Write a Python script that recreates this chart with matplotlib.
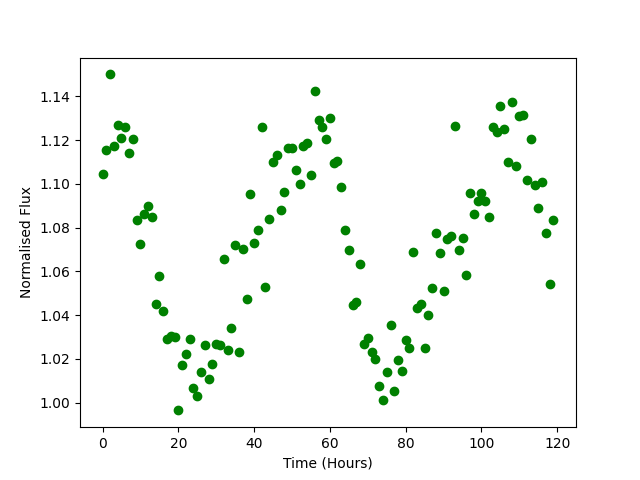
import numpy as np
import matplotlib
matplotlib.use("Agg")
import matplotlib.pyplot as plt

# ── Data ──────────────────────────────────────────────────────────────────────
time_hours = np.arange(120)

flux = [
    1.1047, 1.1156, 1.1500, 1.1173, 1.1268, 1.1210, 1.1260, 1.1140, 1.1206, 1.0834,  # 0-9
    1.0724, 1.0864, 1.0899, 1.0848, 1.0449, 1.0577, 1.0417, 1.0289, 1.0305, 1.0300,  # 10-19
    0.9965, 1.0173, 1.0222, 1.0289, 1.0069, 1.0033, 1.0139, 1.0263, 1.0110, 1.0176,  # 20-29
    1.0269, 1.0263, 1.0655, 1.0243, 1.0341, 1.0719, 1.0231, 1.0701, 1.0473, 1.0953,  # 30-39
    1.0728, 1.0788, 1.1260, 1.0527, 1.0838, 1.1099, 1.1131, 1.0880, 1.0962, 1.1165,  # 40-49
    1.1165, 1.1063, 1.0999, 1.1173, 1.1186, 1.1040, 1.1424, 1.1290, 1.1261, 1.1206,  # 50-59
    1.1300, 1.1096, 1.1105, 1.0985, 1.0788, 1.0696, 1.0447, 1.0458, 1.0632, 1.0270,  # 60-69
    1.0296, 1.0231, 1.0200, 1.0078, 1.0014, 1.0142, 1.0353, 1.0055, 1.0197, 1.0147,  # 70-79
    1.0286, 1.0249, 1.0687, 1.0431, 1.0451, 1.0248, 1.0403, 1.0522, 1.0774, 1.0683,  # 80-89
    1.0509, 1.0748, 1.0760, 1.1264, 1.0696, 1.0751, 1.0582, 1.0957, 1.0861, 1.0921,  # 90-99
    1.0957, 1.0923, 1.0848, 1.1260, 1.1237, 1.1356, 1.1250, 1.1099, 1.1374, 1.1081,  # 100-109
    1.1310, 1.1315, 1.1017, 1.1205, 1.0994, 1.0889, 1.1008, 1.0774, 1.0541, 1.0834,  # 110-119
]

# ── Plot ──────────────────────────────────────────────────────────────────────
fig, ax = plt.subplots(figsize=(6.4, 4.8), dpi=100)
ax.plot(time_hours, flux, "go")
ax.set_xlabel("Time (Hours)")
ax.set_ylabel("Normalised Flux")

fig.savefig("out.png", dpi=100)
